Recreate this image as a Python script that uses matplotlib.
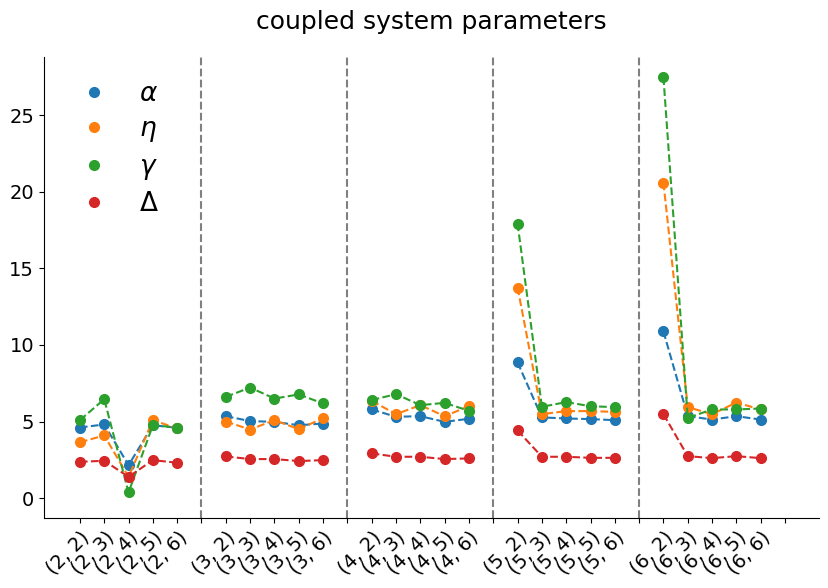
import numpy as np
import matplotlib.pyplot as plt
from matplotlib.lines import Line2D

# one row per group i = 2..6, columns j = 2..6
alpha = [[4.61, 4.81, 2.15, 4.76, 4.59],
         [5.35, 5.03, 4.98, 4.76, 4.87],
         [5.79, 5.31, 5.35, 4.98, 5.18],
         [8.86, 5.27, 5.20, 5.16, 5.09],
         [10.88, 5.35, 5.13, 5.35, 5.13]]
eta = [[3.65, 4.09, 1.39, 5.09, 4.55],
       [5.00, 4.48, 5.09, 4.50, 5.22],
       [6.35, 5.48, 6.07, 5.35, 6.00],
       [13.75, 5.48, 5.68, 5.68, 5.63],
       [20.60, 5.94, 5.48, 6.24, 5.79]]
gamma = [[5.09, 6.46, 0.37, 4.76, 4.61],
         [6.61, 7.22, 6.50, 6.77, 6.18],
         [6.40, 6.79, 6.07, 6.22, 5.70],
         [17.93, 5.96, 6.27, 6.00, 5.94],
         [27.48, 5.24, 5.79, 5.79, 5.85]]
delta = [[2.37, 2.44, 1.39, 2.48, 2.31],
         [2.72, 2.55, 2.55, 2.42, 2.48],
         [2.92, 2.70, 2.70, 2.55, 2.59],
         [4.42, 2.70, 2.70, 2.63, 2.63],
         [5.48, 2.74, 2.61, 2.74, 2.61]]

groups = [2, 3, 4, 5, 6]
inner = [2, 3, 4, 5, 6]
series = [(alpha, r'$\alpha$', 'C0'), (eta, r'$\eta$', 'C1'),
          (gamma, r'$\gamma$', 'C2'), (delta, r'$\Delta$', 'C3')]

fig = plt.figure(figsize=(8.29, 5.88), dpi=100)
ax = fig.add_axes([0.053, 0.119, 0.935, 0.784])

ticks = []
labels = []
for g, i in enumerate(groups):
    xs = np.arange(6 * g + 1, 6 * g + 6)
    for vals, lab, col in series:
        ax.plot(xs, vals[g], '--o', color=col, markersize=7, linewidth=1.5)
    ticks += list(xs) + [6 * g + 6]
    labels += ['(%d, %d)' % (i, j) for j in inner] + ['']
    if g < len(groups) - 1:
        ax.axvline(6 * g + 6, color='gray', linestyle='--', linewidth=1.5)

ax.set_xticks(ticks)
ax.set_xticklabels(labels, rotation=45, ha='right', rotation_mode='anchor')
ax.tick_params(labelsize=14)
ax.set_xlim(-0.48, 31.4)
ax.set_ylim(-1.3, 28.8)
ax.spines['top'].set_visible(False)
ax.spines['right'].set_visible(False)
ax.set_title('coupled system parameters', fontsize=18, pad=20)

handles = [Line2D([], [], marker='o', linestyle='', color=c, markersize=7) for _, _, c in series]
ax.legend(handles, [s[1] for s in series], loc='upper left', frameon=False,
          fontsize=19, handletextpad=0.7, borderaxespad=0.5, labelspacing=0.36)

fig.savefig('out.png')
